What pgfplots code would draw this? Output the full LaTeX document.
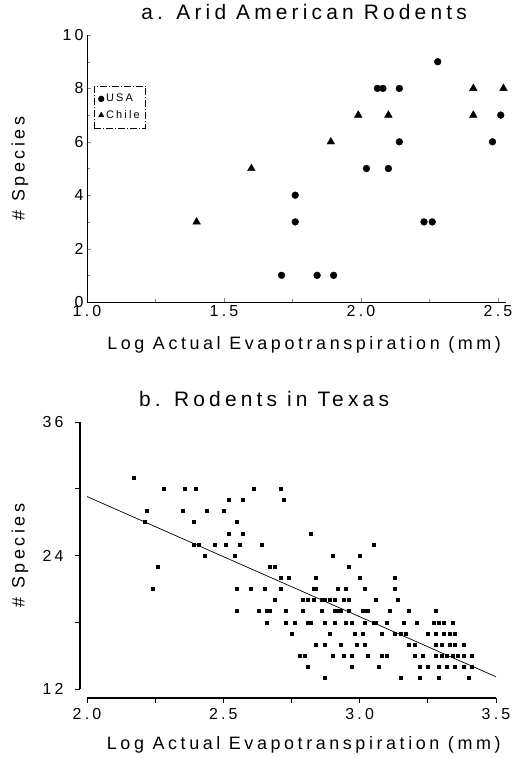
\documentclass[border=0pt]{standalone}
\usepackage{fontspec}
\setmainfont{Liberation Sans}[LetterSpace=20]
\usepackage{pgfplots}
\pgfplotsset{compat=1.18}

\pgfplotsset{
  fonts/.style={
    scale only axis,
    ticklabel style={font=\fontsize{16}{18}\selectfont},
    label style={font=\fontsize{18}{20}\selectfont},
    title style={font=\fontsize{21}{24}\selectfont, anchor=base},
  },
}

\begin{document}
\begin{tikzpicture}
\useasboundingbox (0,0) rectangle (525bp,-758bp);

% a. arid american rodents (xmax a bit past 2.5 so the last marks show)
\begin{axis}[
  fonts,
  axis x line*=bottom, axis y line*=left,
  /pgf/number format/assume math mode=true,
  at={(87bp,-302bp)}, anchor=south west,
  width=419.2bp, height=267bp,
  xmin=1, xmax=2.53, ymin=0, ymax=10,
  xtick={1,1.5,2,2.5}, minor xtick={1.25,1.75,2.25},
  ytick={0,2,4,6,8,10}, minor ytick={1,3,5,7,9},
  xticklabel style={/pgf/number format/.cd, fixed, fixed zerofill, precision=1},
  title={a. Arid American Rodents},
  title style={at={(axis description cs:0.518,1.037)}},
  xlabel={Log Actual Evapotranspiration (mm)},
  xlabel style={at={(axis description cs:0.518,-0.161)}, anchor=center},
  ylabel={\# Species},
  ylabel style={at={(axis description cs:-0.160,0.5)}, anchor=center},
  legend style={at={(axis description cs:0.017,0.809)}, anchor=north west,
    draw=black, dash pattern=on 7bp off 2bp on 1bp off 2bp, line width=0.6bp,
    inner xsep=4bp, inner ysep=6bp,
    font=\fontsize{11}{13}\selectfont, row sep=3bp},
  legend cell align=left,
  legend image code/.code={\draw[#1, mark size=2.8bp] plot coordinates {(0.1cm,0cm)};},
]
\addplot[only marks, mark=*, mark size=3.4bp, black] coordinates {
  (2.28,9) (2.06,8) (2.08,8) (2.14,8) (2.51,7) (2.48,6) (2.14,6)
  (2.02,5) (2.10,5) (1.76,4) (1.76,3) (2.23,3) (2.26,3)
  (1.71,1) (1.84,1) (1.90,1)
};
\addlegendentry{USA}
\addplot[only marks, mark=triangle*, mark size=4.4bp, black] coordinates {
  (2.52,8) (2.41,8) (2.41,7) (2.10,7) (1.99,7) (1.89,6) (1.60,5) (1.40,3)
};
\addlegendentry{Chile}
\end{axis}

% b. rodents in texas
\begin{axis}[
  fonts,
  axis x line*=bottom, axis y line*=left,
  tick align=outside,
  major tick length=5bp, minor tick length=5bp,
  xtick style={black, line width=1bp, yshift=-9bp},
  ytick style={black, line width=1bp, xshift=-7bp},
  x axis line style={black, line width=1.5bp, yshift=-9bp},
  y axis line style={black, line width=2.2bp, xshift=-7bp},
  xticklabel style={yshift=-11bp},
  yticklabel style={xshift=-15bp},
  at={(87bp,-689bp)}, anchor=south west,
  width=409bp, height=267bp,
  xmin=2, xmax=3.5, ymin=12, ymax=36,
  xtick={2,2.5,3,3.5}, minor xtick={2.25,2.75,3.25},
  xticklabels={2.0,2.5,3.0,3.5},
  ytick={12,24,36}, minor ytick={18,30},
  yticklabels={12,24,36},
  title={b. Rodents in Texas},
  title style={at={(axis description cs:0.433,1.037)}},
  xlabel={Log Actual Evapotranspiration (mm)},
  xlabel style={at={(axis description cs:0.53,-0.21)}, anchor=center},
  ylabel={\# Species},
  ylabel style={at={(axis description cs:-0.164,0.5)}, anchor=center},
]
\addplot[only marks, mark=square*, mark size=1.5bp, black] coordinates {
  (2.17,31)
  (2.28,30) (2.36,30) (2.40,30) (2.61,30) (2.71,30)
  (2.52,29) (2.57,29) (2.72,29)
  (2.22,28) (2.35,28) (2.44,28) (2.50,28)
  (2.21,27) (2.39,27) (2.55,27)
  (2.52,26) (2.57,26) (2.82,26)
  (2.39,25) (2.41,25) (2.47,25) (2.51,25) (2.56,25) (2.64,25) (3.05,25)
  (2.43,24) (2.54,24) (2.90,24) (3.00,24)
  (2.26,23) (2.67,23) (2.69,23) (2.96,23)
  (2.71,22) (2.74,22) (2.84,22) (3.00,22) (3.13,22)
  (2.24,21) (2.55,21) (2.60,21) (2.65,21) (2.71,21) (2.83,21) (2.84,21)
  (2.92,21) (2.95,21) (3.02,21) (3.13,21)
  (2.69,20) (2.79,20) (2.81,20) (2.83,20) (2.86,20) (2.87,20) (2.89,20)
  (2.91,20) (2.94,20) (2.96,20) (3.06,20) (3.14,20)
  (2.55,19) (2.63,19) (2.66,19) (2.67,19) (2.73,19) (2.79,19) (2.86,19)
  (2.91,19) (2.92,19) (2.93,19) (2.96,19) (3.01,19) (3.02,19) (3.03,19)
  (3.11,19) (3.18,19) (3.28,19)
  (2.66,18) (2.73,18) (2.76,18) (2.81,18) (2.82,18) (2.87,18) (2.91,18)
  (2.95,18) (2.97,18) (3.02,18) (3.05,18) (3.06,18) (3.10,18) (3.16,18)
  (3.21,18) (3.27,18) (3.29,18) (3.31,18) (3.34,18)
  (2.75,17) (2.89,17) (2.98,17) (3.01,17) (3.08,17) (3.13,17) (3.15,17)
  (3.17,17) (3.25,17) (3.28,17) (3.31,17) (3.33,17) (3.35,17)
  (2.84,16) (2.87,16) (2.93,16) (2.99,16) (3.02,16) (3.18,16) (3.20,16)
  (3.28,16) (3.30,16) (3.33,16) (3.35,16) (3.38,16)
  (2.78,15) (2.80,15) (2.90,15) (2.94,15) (2.97,15) (3.03,15) (3.08,15)
  (3.10,15) (3.20,15) (3.23,15) (3.28,15) (3.30,15) (3.32,15) (3.34,15)
  (3.36,15) (3.38,15) (3.41,15)
  (2.81,14) (2.97,14) (3.07,14) (3.22,14) (3.25,14) (3.29,14) (3.32,14)
  (3.35,14) (3.38,14) (3.41,14)
  (2.87,13) (3.15,13) (3.22,13) (3.29,13) (3.40,13)
};
\addplot[black, line width=0.7bp, no markers] coordinates {(2.0,29.3) (3.5,13.1)};
\end{axis}
\end{tikzpicture}
\end{document}
